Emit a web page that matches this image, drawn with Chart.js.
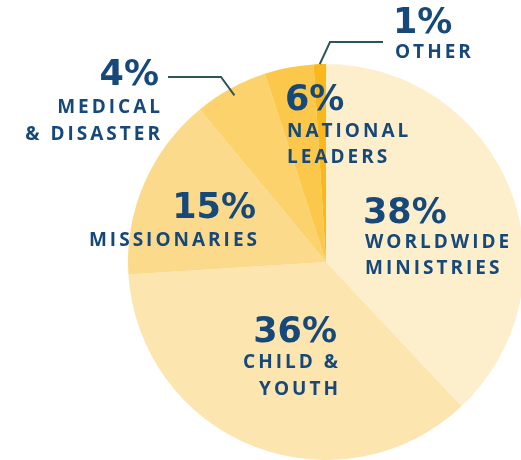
<!DOCTYPE html>
<html>
<head>
<meta charset="utf-8">
<script src="https://cdn.jsdelivr.net/npm/chart.js@4.4.1/dist/chart.umd.min.js"></script>
<style>
    html, body { margin: 0; padding: 0; background: #fff; overflow: hidden; }
    #wrap { width: 530px; height: 460px; }
</style>
</head>
<body>
<div id="wrap"><canvas id="givingChart" width="530" height="460"></canvas></div>
<script>
// Categories, clockwise from 12 o'clock
const categories = ['Worldwide Ministries', 'Child & Youth', 'Missionaries', 'Medical & Disaster', 'National Leaders', 'Other'];
// Percentages as printed on the labels
const printedShares = [38, 36, 15, 4, 6, 1];
// Wedge sizes as drawn (medical / national wedges look swapped vs. their printed numbers)
const sliceShares = [38, 36, 15, 6, 4, 1];
const labelLines = [
    ['WORLDWIDE', 'MINISTRIES'],
    ['CHILD &', 'YOUTH'],
    ['MISSIONARIES'],
    ['MEDICAL', '& DISASTER'],
    ['NATIONAL', 'LEADERS'],
    ['OTHER']
];
const sliceColors = ['#fdefcc', '#fce5ae', '#fbda8b', '#fbd26c', '#fcc84b', '#fbb81c'];

const TEXT_COLOR = '#16487a';
const LINE_COLOR = '#2d5558';
const PCT_FONT = 'bold 35px "DejaVu Sans"';
const NAME_FONT = '700 19px "Open Sans"';
const NAME_SPACING = 3;

// Where each label block sits (percent baseline, then name lines below)
const labelSpots = [
    { x: 363, y: 223, align: 'left', lineGap: 26, firstGap: 25 },
    { x: 337, y: 342, align: 'right', lineGap: 27, firstGap: 26 },
    { x: 256, y: 218, align: 'right', lineGap: 27, firstGap: 28 },
    { x: 159, y: 85, align: 'right', lineGap: 27, firstGap: 28,
      leader: { depth: 0.96, elbowX: 221, y: 77, endX: 168 } },
    { x: 285, y: 110, align: 'left', lineGap: 26, firstGap: 27 },
    { x: 393, y: 33, align: 'left', lineGap: 26, firstGap: 25,
      leader: { depth: 1.0, elbowX: 330, y: 42, endX: 383 } }
];

function drawSpaced(ctx, text, x, y, align, spacing) {
    ctx.letterSpacing = spacing + 'px';
    const w = ctx.measureText(text).width - spacing;
    ctx.textAlign = 'left';
    ctx.fillText(text, align === 'right' ? x - w : x, y);
}

const sliceLabelPlugin = {
    id: 'sliceLabels',
    afterDatasetsDraw(chart) {
        const ctx = chart.ctx;
        const arcs = chart.getDatasetMeta(0).data;
        ctx.save();
        labelSpots.forEach((spot, i) => {
            if (spot.leader) {
                const a = arcs[i];
                const mid = (a.startAngle + a.endAngle) / 2;
                const r = a.outerRadius * spot.leader.depth;
                ctx.beginPath();
                ctx.moveTo(a.x + Math.cos(mid) * r, a.y + Math.sin(mid) * r);
                ctx.lineTo(spot.leader.elbowX, spot.leader.y);
                ctx.lineTo(spot.leader.endX, spot.leader.y);
                ctx.strokeStyle = LINE_COLOR;
                ctx.lineWidth = 2;
                ctx.stroke();
            }
            ctx.fillStyle = TEXT_COLOR;
            ctx.textBaseline = 'alphabetic';
            ctx.font = PCT_FONT;
            drawSpaced(ctx, printedShares[i] + '%', spot.x, spot.y, spot.align, 0);
            ctx.font = NAME_FONT;
            labelLines[i].forEach((line, j) => {
                const y = spot.y + spot.firstGap + j * spot.lineGap;
                drawSpaced(ctx, line, spot.align === 'right' ? spot.x + 1 : spot.x + 2, y, spot.align, NAME_SPACING);
            });
        });
        ctx.restore();
    }
};

new Chart(document.getElementById('givingChart'), {
    type: 'pie',
    data: {
        labels: categories,
        datasets: [{
            data: sliceShares,
            backgroundColor: sliceColors,
            borderWidth: 0
        }]
    },
    options: {
        responsive: false,
        animation: false,
        layout: { padding: { left: 128, right: 6, top: 64, bottom: 0 } },
        plugins: {
            legend: { display: false },
            tooltip: { enabled: false }
        }
    },
    plugins: [sliceLabelPlugin]
});
</script>
</body>
</html>
